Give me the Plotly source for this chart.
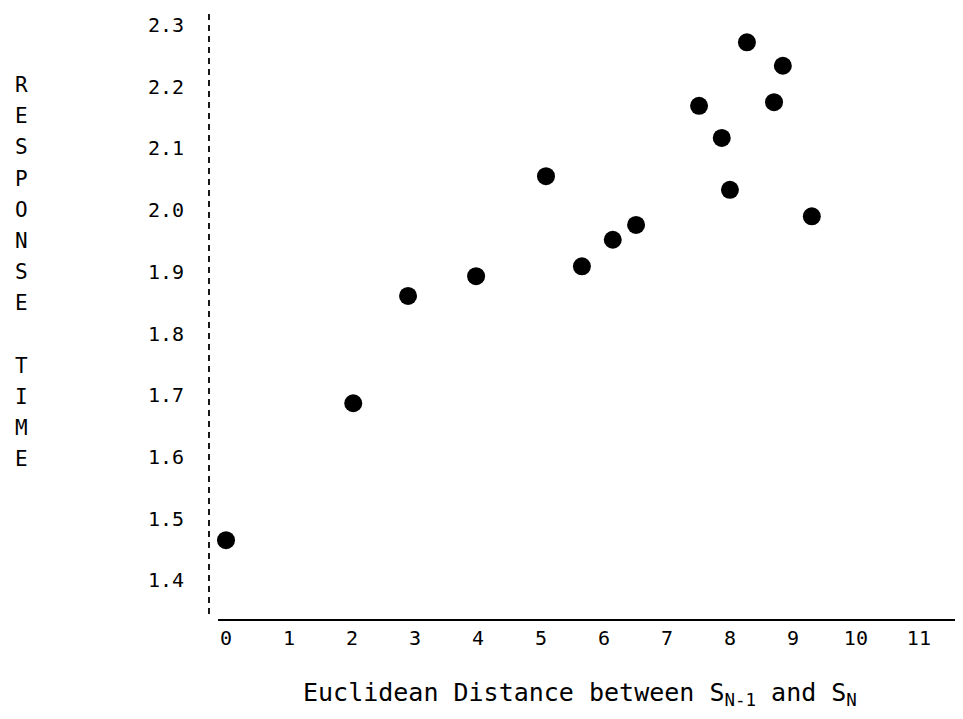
import plotly.graph_objects as go

# Data
distance = [0.0, 2.02, 2.89, 3.97, 5.08, 5.65, 6.14, 6.51, 7.51, 7.87, 8.0, 8.27, 8.84, 8.70, 9.30]
response_time = [1.465, 1.687, 1.861, 1.893, 2.055, 1.909, 1.952, 1.976, 2.169, 2.117, 2.033, 2.272, 2.234, 2.175, 1.990]

x_ticks = list(range(0, 12))
x_tick_labels = [str(v) for v in x_ticks]
y_ticks = [1.4, 1.5, 1.6, 1.7, 1.8, 1.9, 2.0, 2.1, 2.2, 2.3]
y_tick_labels = [f"{v:.1f}" for v in y_ticks]

y_title_words = ["RESPONSE", "TIME"]
x_title = "Euclidean Distance between S<sub>N-1</sub> and S<sub>N</sub>"

FONT = "DejaVu Sans Mono"

# the page body adds an 8px offset; the figure is sized to compensate
L, T, B = 201, 5, 99
PLOT_W = 955 - L

fig = go.Figure()
fig.add_trace(go.Scatter(
    x=distance, y=response_time, mode="markers",
    marker=dict(size=18, color="black", line=dict(width=0)),
    showlegend=False, hoverinfo="x+y",
))

fig.update_layout(
    width=955, height=711,
    margin=dict(l=L, r=0, t=T, b=B),
    paper_bgcolor="white", plot_bgcolor="white",
    font=dict(family=FONT, color="black", size=20),
    xaxis=dict(
        range=[-0.27, 11.70], tickvals=x_ticks, ticktext=x_tick_labels,
        showgrid=False, zeroline=False, showline=False, ticks="",
        ticklabelstandoff=4, tickfont=dict(family=FONT, size=20, color="black"),
    ),
    yaxis=dict(
        range=[1.3357, 2.3195], tickvals=y_ticks, ticktext=y_tick_labels,
        showgrid=False, zeroline=False, showline=False, ticks="",
        ticklabelstandoff=24, tickfont=dict(family=FONT, size=20, color="black"),
    ),
)

# dashed vertical axis line
fig.add_shape(type="line", xref="paper", yref="paper", x0=0, x1=0, y0=0.01, y1=1,
              line=dict(color="black", width=1.8, dash="6px,5px"))
# solid horizontal axis line
fig.add_shape(type="line", xref="paper", yref="paper", x0=0.012, x1=1, y0=0, y1=0,
              line=dict(color="black", width=2))

# vertical stacked y title
letters_lines = list(y_title_words[0]) + [" "] + list(y_title_words[1])
y_title_text = "<br>".join(
    f"<span style='font-size:21px'>{c}</span>" for c in letters_lines
)
fig.add_annotation(
    text=y_title_text, xref="paper", yref="y", x=(13 - L) / PLOT_W, y=1.9,
    xanchor="center", yanchor="middle", showarrow=False,
    font=dict(family=FONT, size=24, color="black"), align="center",
)

# x title
fig.add_annotation(
    text=x_title, xref="paper", yref="paper", x=(572 - L) / PLOT_W, y=0,
    xanchor="center", yanchor="middle", yshift=-74, showarrow=False,
    font=dict(family=FONT, size=25, color="black"),
)

fig.write_html("out.html")
